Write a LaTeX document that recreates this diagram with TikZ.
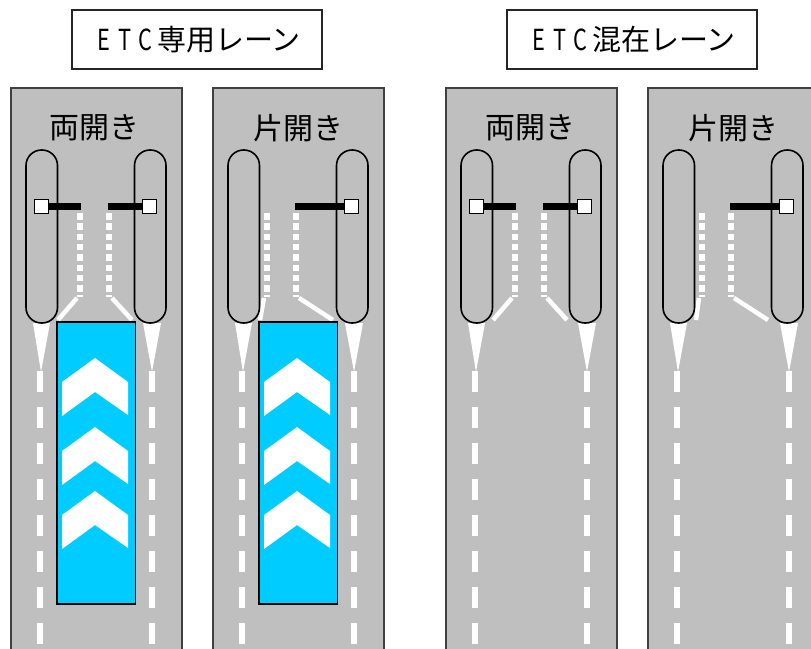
\documentclass[tikz,border=0pt]{standalone}
\usepackage{fontspec}
\setmainfont{Noto Sans CJK JP}
\tikzset{
    road/.style={draw=black!75, line width=1.2pt, fill=black!25},
    island/.style={draw=black, line width=1.6pt, rounded corners=15.5pt},
    titlebox/.style={draw=black!85, line width=1.2pt, minimum width=250pt, minimum height=59pt, inner sep=0pt, font=\fontsize{29}{29}\selectfont},
    lanelabel/.style={inner sep=0pt, font=\fontsize{30}{30}\selectfont},
    arm/.style={line width=7pt, black},
    post/.style={draw=black, line width=1pt, fill=white},
    guide/.style={white, line width=6pt, dash pattern=on 6.5pt off 3.8pt},
    lanemark/.style={white, line width=6pt, dash pattern=on 21pt off 15pt},
    corner/.style={white, line width=4.5pt},
    wedge/.style={fill=white},
    etcarea/.style={draw=black, line width=1.5pt, fill=etcblue},
    chevron/.style={fill=white}
}
\definecolor{etcblue}{HTML}{00CCFF}
\newcommand{\etcchar}[1]{\makebox[21pt][c]{\scalebox{.75}[1]{#1}}}
\newcommand{\etc}{\etcchar{E}\etcchar{T}\etcchar{C}\hspace{1pt}}

\begin{document}
\begin{tikzpicture}[x=1pt, y=-1pt]
\useasboundingbox (0,0) rectangle (811,648);
\clip (0,0) rectangle (811,648);

\node[titlebox] (title-a) at (197,39.5) {\etc 専用レーン};
\node[titlebox] (title-b) at (632,39.5) {\etc 混在レーン};

% lanes: offset / label x / label / guide x left, right / lower end of the corner marks
\foreach \ox/\lx/\lab/\gl/\gr/\cl/\cr in {0/94/両開き/80/109/58/132, 202/96.5/片開き/65/94/58/131, 435/95/両開き/80/109/58/132, 637/96.5/片開き/65/94/59/131}{
\begin{scope}[xshift=\ox pt]
    \draw[road] (11,88) rectangle (182,670);
    \node[lanelabel] (label-\ox) at (\lx,128) {\lab};
    \fill[wedge] (33,323) -- (50,323) -- (41,372) -- cycle;
    \fill[wedge] (143,323) -- (161,323) -- (152,372) -- cycle;
    \draw[lanemark] (40,371) -- (40,670);
    \draw[lanemark] (152,371) -- (152,670);
    \draw[guide] (\gl,213) -- (\gl,297);
    \draw[guide] (\gr,213) -- (\gr,297);
    \draw[corner] (\gl-3,298) -- (\cl,320);
    \draw[corner] (\gr+3,298) -- (\cr,320);
    \draw[island] (26,150) rectangle (57.5,323);
    \draw[island] (134.5,150) rectangle (166,323);
    % right gate arm is in every lane
    \draw[arm] (\gr-1,206) -- (142,206);
    \draw[post] (142,199) rectangle (156,213);
\end{scope}
}

% left gate arm
\foreach \ox in {0,435}{
\begin{scope}[xshift=\ox pt]
    \draw[arm] (48,206) -- (81,206);
    \draw[post] (34,199) rectangle (48,213);
\end{scope}
}

% blue area with arrows
\foreach \ox in {0,202}{
\begin{scope}[xshift=\ox pt]
    \draw[etcarea] (57,322) rectangle (135.5,604);
    \foreach \y in {358,427,491}
        \fill[chevron] (95,\y) -- (128,\y+24) -- (128,\y+57) -- (95,\y+34) -- (62,\y+58) -- (62,\y+24) -- cycle;
\end{scope}
}
%
\end{tikzpicture}
\end{document}
